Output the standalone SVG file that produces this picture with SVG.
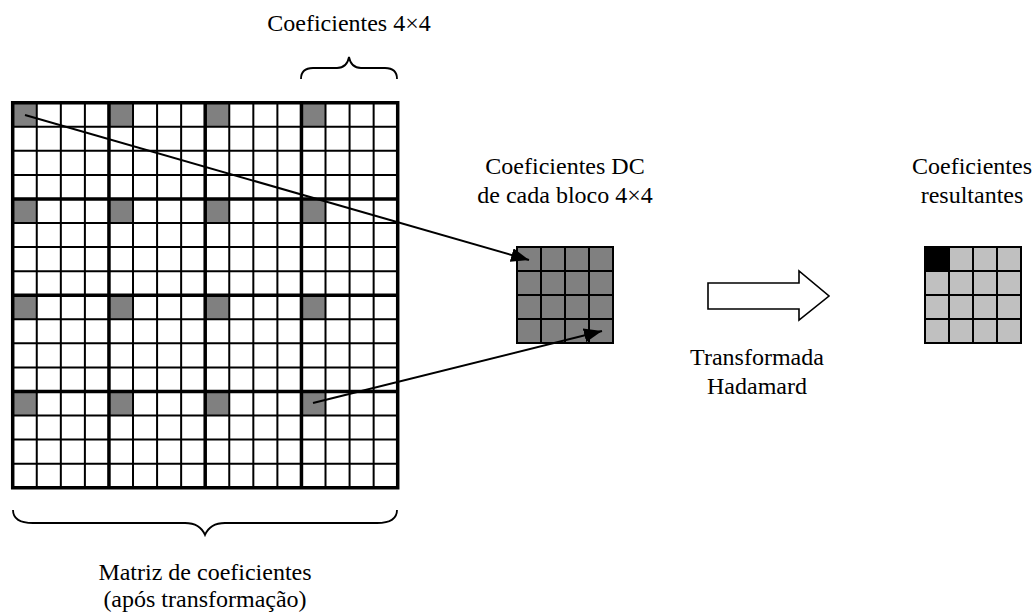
<svg xmlns="http://www.w3.org/2000/svg" width="1035" height="612" viewBox="0 0 1035 612">
  <style>
    .lbl { font-family: "Liberation Serif", "Times New Roman", serif; font-size: 24px; fill: #000; text-anchor: middle; }
    .thin { stroke: #000; stroke-width: 2; fill: none; }
    .thick { stroke: #000; stroke-width: 3.5; fill: none; stroke-linecap: square; }
    .dc { fill: #808080; }
    .res { fill: #c0c0c0; }
    .brace { stroke: #000; stroke-width: 1.8; fill: none; }
    .link { stroke: #000; stroke-width: 2; fill: none; }
  </style>
  <defs>
    <marker id="head" markerUnits="userSpaceOnUse" markerWidth="20" markerHeight="14" refX="18" refY="7" orient="auto">
      <path d="M0,0 L18,7 L0,14 Z" fill="#000"/>
    </marker>
  </defs>
  <rect width="1035" height="612" fill="#fff"/>

  <!-- 16x16 coefficient matrix: 4x4 blocks of 4x4 coefficients -->
  <g id="matrix">
    <rect x="12.7" y="102.7" width="385" height="385" fill="#fff"/>
    <g id="dc-cells">
      <rect class="dc" x="12.7" y="102.7" width="24.06" height="24.06"/>
      <rect class="dc" x="108.95" y="102.7" width="24.06" height="24.06"/>
      <rect class="dc" x="205.2" y="102.7" width="24.06" height="24.06"/>
      <rect class="dc" x="301.45" y="102.7" width="24.06" height="24.06"/>
      <rect class="dc" x="12.7" y="198.95" width="24.06" height="24.06"/>
      <rect class="dc" x="108.95" y="198.95" width="24.06" height="24.06"/>
      <rect class="dc" x="205.2" y="198.95" width="24.06" height="24.06"/>
      <rect class="dc" x="301.45" y="198.95" width="24.06" height="24.06"/>
      <rect class="dc" x="12.7" y="295.2" width="24.06" height="24.06"/>
      <rect class="dc" x="108.95" y="295.2" width="24.06" height="24.06"/>
      <rect class="dc" x="205.2" y="295.2" width="24.06" height="24.06"/>
      <rect class="dc" x="301.45" y="295.2" width="24.06" height="24.06"/>
      <rect class="dc" x="12.7" y="391.45" width="24.06" height="24.06"/>
      <rect class="dc" x="108.95" y="391.45" width="24.06" height="24.06"/>
      <rect class="dc" x="205.2" y="391.45" width="24.06" height="24.06"/>
      <rect class="dc" x="301.45" y="391.45" width="24.06" height="24.06"/>
    </g>
    <path class="thin" d="
      M36.76,102.7 V487.7 M60.83,102.7 V487.7 M84.89,102.7 V487.7
      M133.01,102.7 V487.7 M157.08,102.7 V487.7 M181.14,102.7 V487.7
      M229.26,102.7 V487.7 M253.33,102.7 V487.7 M277.39,102.7 V487.7
      M325.51,102.7 V487.7 M349.58,102.7 V487.7 M373.64,102.7 V487.7
      M12.7,126.76 H397.7 M12.7,150.83 H397.7 M12.7,174.89 H397.7
      M12.7,223.01 H397.7 M12.7,247.08 H397.7 M12.7,271.14 H397.7
      M12.7,319.26 H397.7 M12.7,343.33 H397.7 M12.7,367.39 H397.7
      M12.7,415.51 H397.7 M12.7,439.58 H397.7 M12.7,463.64 H397.7"/>
    <path class="thick" d="
      M12.7,102.7 V487.7 M108.95,102.7 V487.7 M205.2,102.7 V487.7 M301.45,102.7 V487.7 M397.7,102.7 V487.7
      M12.7,102.7 H397.7 M12.7,198.95 H397.7 M12.7,295.2 H397.7 M12.7,391.45 H397.7 M12.7,487.7 H397.7"/>
  </g>

  <!-- brace over one 4x4 block -->
  <g id="block-label">
    <path class="brace" d="M301,79 Q301,68 313,68 L337,68 Q347,68 349,57 Q351,68 361,68 L385,68 Q397,68 397,79"/>
    <text class="lbl" x="349" y="31">Coeficientes 4×4</text>
  </g>

  <!-- brace under the whole matrix -->
  <g id="matrix-label">
    <path class="brace" d="M13,510 Q13,523 33,523 L185,523 Q200,523 205,535 Q210,523 225,523 L377,523 Q397,523 397,510"/>
    <text class="lbl" x="205" y="580">Matriz de coeficientes</text>
    <text class="lbl" x="205" y="607">(após transformação)</text>
  </g>

  <!-- 4x4 array of DC coefficients -->
  <g id="dc-array">
    <rect class="dc" x="517" y="247" width="96" height="96"/>
    <path class="thin" d="M541,247 V343 M565,247 V343 M589,247 V343 M517,271 H613 M517,295 H613 M517,319 H613"/>
    <rect class="thin" x="517" y="247" width="96" height="96"/>
    <text class="lbl" x="565" y="174">Coeficientes DC</text>
    <text class="lbl" x="565" y="203">de cada bloco 4×4</text>
  </g>

  <!-- Hadamard transform step -->
  <g id="hadamard">
    <path d="M708,283 L799,283 L799,271 L829,296 L799,320 L799,309 L708,309 Z" fill="#fff" stroke="#000" stroke-width="1.6" stroke-linejoin="miter"/>
    <text class="lbl" x="757" y="365">Transformada</text>
    <text class="lbl" x="757" y="394">Hadamard</text>
  </g>

  <!-- resulting coefficients -->
  <g id="result-array">
    <rect class="res" x="925" y="247" width="96" height="96"/>
    <rect x="925" y="247" width="24" height="24" fill="#000"/>
    <path class="thin" d="M949,247 V343 M973,247 V343 M997,247 V343 M925,271 H1021 M925,295 H1021 M925,319 H1021"/>
    <rect class="thin" x="925" y="247" width="96" height="96"/>
    <text class="lbl" x="972" y="174">Coeficientes</text>
    <text class="lbl" x="972" y="203">resultantes</text>
  </g>

  <!-- connectors from DC cells to the DC array -->
  <g id="connectors">
    <line class="link" x1="25" y1="115" x2="529" y2="260" marker-end="url(#head)"/>
    <line class="link" x1="313" y1="403" x2="602" y2="331" marker-end="url(#head)"/>
  </g>
</svg>
